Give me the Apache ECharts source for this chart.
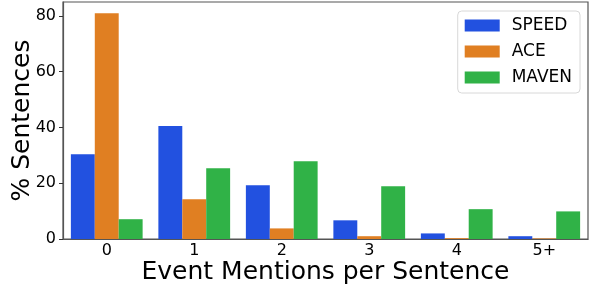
<!DOCTYPE html>
<html>
<head>
<meta charset="utf-8">
<script src="https://cdn.jsdelivr.net/npm/echarts@6/dist/echarts.min.js"></script>
<style>
  html, body { margin: 0; padding: 0; background: #fff; }
  #chart { width: 592px; height: 289px; }
</style>
</head>
<body>
<div id="chart"></div>
<script>
// events per sentence buckets
const categories = ['0', '1', '2', '3', '4', '5+']
const speed = [30.4, 40.5, 19.3, 6.7, 2.0, 1.0]
const ace = [81.0, 14.3, 3.8, 1.0, 0.3, 0.2]
const maven = [7.1, 25.4, 27.9, 18.9, 10.7, 9.9]
const yTicks = [0, 20, 40, 60, 80]

const font = 'DejaVu Sans'
const chart = echarts.init(document.getElementById('chart'))

const bar = (name, data, color) => ({
  name: name,
  type: 'bar',
  data: data,
  barGap: '0%',
  barCategoryGap: '18%',
  itemStyle: { color: color }
})

const option = {
  animation: false,
  textStyle: { fontFamily: font },
  grid: {
    left: 63, right: 4, top: 2, bottom: 50,
    outerBoundsMode: 'none',
    containLabel: false,
    show: true,
    borderColor: '#555',
    borderWidth: 1.2
  },
  legend: {
    orient: 'vertical',
    right: 12,
    top: 11,
    padding: [6, 8, 7, 7],
    itemWidth: 35,
    itemHeight: 12,
    itemGap: 9,
    borderColor: '#d8d8d8',
    borderWidth: 1,
    borderRadius: 4,
    backgroundColor: '#fff',
    icon: 'rect',
    textStyle: { fontSize: 17, color: '#000', fontFamily: font, lineHeight: 16, padding: [0, 0, 0, 7] },
    data: ['SPEED', 'ACE', 'MAVEN']
  },
  xAxis: {
    type: 'category',
    data: categories,
    name: 'Event Mentions per Sentence',
    nameLocation: 'middle',
    nameGap: 21,
    nameMoveOverlap: false,
    nameTextStyle: { fontSize: 25, color: '#000', fontFamily: font },
    axisLine: { lineStyle: { color: '#555', width: 1.2 } },
    axisTick: { alignWithLabel: true, length: 4, lineStyle: { color: '#333' } },
    axisLabel: { fontSize: 16, color: '#000', margin: 4, fontFamily: font }
  },
  yAxis: {
    type: 'value',
    min: 0,
    max: 85,
    interval: 20,
    name: '% Sentences',
    nameLocation: 'middle',
    nameGap: 28,
    nameMoveOverlap: false,
    nameTextStyle: { fontSize: 25, color: '#000', fontFamily: font },
    axisLine: { show: true, lineStyle: { color: '#555', width: 1.2 } },
    axisTick: { show: true, length: 4, customValues: yTicks, lineStyle: { color: '#333' } },
    axisLabel: { fontSize: 16, color: '#000', margin: 7, customValues: yTicks, fontFamily: font },
    splitLine: { show: false }
  },
  series: [
    bar('SPEED', speed, '#2251e0'),
    bar('ACE', ace, '#e07f22'),
    bar('MAVEN', maven, '#30b247')
  ]
}

chart.setOption(option)
</script>
</body>
</html>
